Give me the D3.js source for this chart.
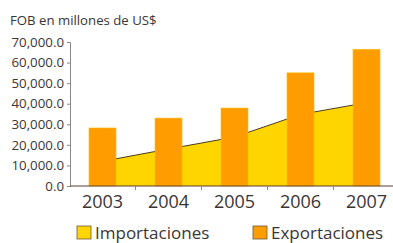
<!DOCTYPE html>
<html>
<head>
<meta charset="utf-8">
<script src="https://cdn.jsdelivr.net/npm/d3@7"></script>
<style>
    body { margin: 0; background: #fff; }
    text { font-family: "Open Sans", sans-serif; fill: #3a3535; }
</style>
</head>
<body>
<div id="chart"></div>
<script>
let years = ["2003", "2004", "2005", "2006", "2007"];
let exportaciones = [28200, 33000, 37900, 55000, 66400];
let importaciones = [12000, 18000, 23800, 34800, 40500];
let yTicks = [0, 10000, 20000, 30000, 40000, 50000, 60000, 70000];
let legendLabels = ["Importaciones", "Exportaciones"];

let colorImp = "#ffd500";
let colorExp = "#ff9c00";

let svg = d3.select("#chart").append("svg")
    .attr("width", 393)
    .attr("height", 243);

let x = d3.scaleBand().domain(years).range([69.5, 399.5]).padding(0);
let y = d3.scaleLinear().domain([0, 70000]).range([186, 42]);

svg.append("text")
    .attr("x", 10)
    .attr("y", 25)
    .style("font-size", "13.2px")
    .text("FOB en millones de US$");

// area for imports, from centre of first band to centre of last
let area = d3.area()
    .x((d, i) => x(years[i]) + x.bandwidth() / 2)
    .y0(y(0))
    .y1(d => y(d));

let line = d3.line()
    .x((d, i) => x(years[i]) + x.bandwidth() / 2)
    .y(d => y(d));

svg.append("path")
    .datum(importaciones)
    .attr("d", area)
    .attr("fill", colorImp);

svg.append("path")
    .datum(importaciones)
    .attr("d", line)
    .attr("fill", "none")
    .attr("stroke", "#4a3d1c")
    .attr("stroke-width", 1);

let bw = 27;
svg.selectAll(".bar")
    .data(exportaciones)
    .enter().append("rect")
    .attr("class", "bar")
    .attr("x", (d, i) => x(years[i]) + x.bandwidth() / 2 - bw / 2)
    .attr("y", d => y(d))
    .attr("width", bw)
    .attr("height", d => y(0) - y(d))
    .attr("fill", colorExp)
    .attr("stroke", "#ffb800")
    .attr("stroke-width", 0.6);

// y axis
let yAxis = d3.axisLeft(y)
    .tickValues(yTicks)
    .tickSize(3)
    .tickPadding(3)
    .tickFormat(d => d3.format(",.1f")(d));

let gy = svg.append("g")
    .attr("transform", "translate(70,0)")
    .call(yAxis);
gy.select(".domain").attr("stroke", "#8a8a8a");
gy.selectAll(".tick line").attr("stroke", "#8a8a8a");
gy.selectAll(".tick text")
    .style("font-size", "13.3px")
    .style("font-family", "'Open Sans', sans-serif")
    .attr("fill", "#3a3535");

// x axis
let gx = svg.append("g").attr("transform", "translate(0," + y(0) + ")");
gx.append("line")
    .attr("x1", 70).attr("x2", 393)
    .attr("stroke", "#5a3d33").attr("stroke-width", 1.2);
gx.selectAll(".sep")
    .data(years.slice(1))
    .enter().append("line")
    .attr("x1", d => x(d)).attr("x2", d => x(d))
    .attr("y1", 0).attr("y2", 4)
    .attr("stroke", "#8a8a8a");
gx.selectAll(".yl")
    .data(years)
    .enter().append("text")
    .attr("x", d => x(d) + x.bandwidth() / 2)
    .attr("y", 22)
    .attr("text-anchor", "middle")
    .style("font-size", "18px")
    .text(d => d);

// legend
let legend = svg.selectAll(".leg")
    .data(legendLabels)
    .enter().append("g")
    .attr("transform", (d, i) => "translate(" + [77, 253][i] + ",225)");
legend.append("rect")
    .attr("width", 14).attr("height", 13)
    .attr("y", 1)
    .attr("fill", (d, i) => [colorImp, colorExp][i])
    .attr("stroke", "#6b5a3a").attr("stroke-width", 0.8);
legend.append("text")
    .attr("x", 18)
    .attr("y", 13.5)
    .style("font-size", "17px")
    .text(d => d);
</script>
</body>
</html>
